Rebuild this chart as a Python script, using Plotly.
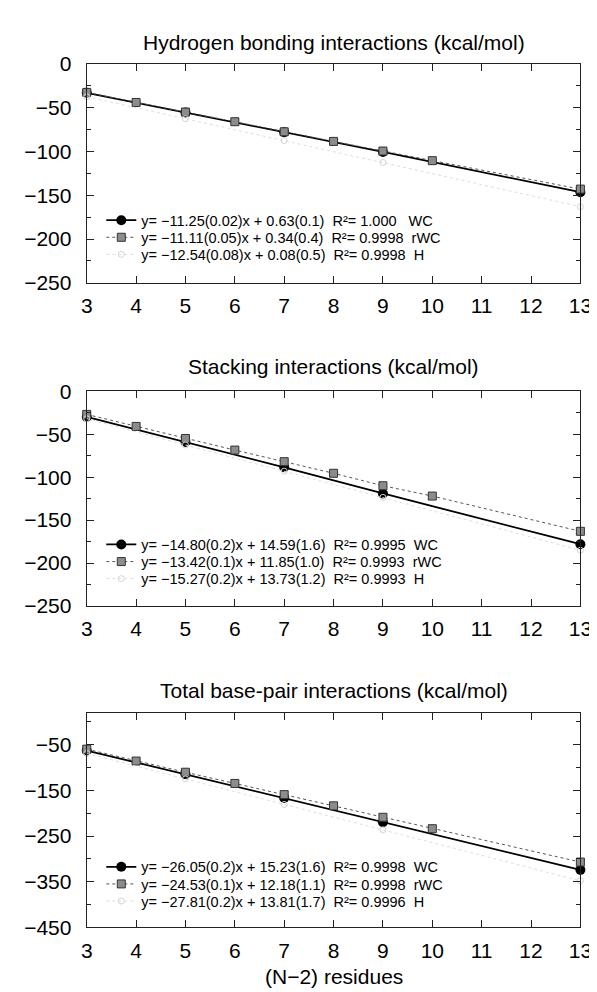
import plotly.graph_objects as go

# ---------------- data ----------------
x_wc = [3, 5, 7, 9, 13]
x_rwc = [3, 4, 5, 6, 7, 8, 9, 10, 13]
x_h = [3, 5, 7, 9, 13]

hb_wc = [-33, -55.5, -78, -100.5, -146.5]
hb_rwc = [-32.5, -44, -55, -66, -77.5, -88.5, -99.5, -110.5, -143]
hb_h = [-37.5, -62.5, -87.5, -112.5, -163]

st_wc = [-30, -59, -88.5, -119, -178]
st_rwc = [-27, -41, -55, -68.5, -82, -95.5, -110, -122, -163]
st_h = [-32, -62.5, -93, -123.5, -185]

tot_wc = [-63, -115, -167, -220, -324]
tot_rwc = [-60, -86, -110.5, -135, -159.5, -184, -209, -234, -307]
tot_h = [-69.5, -125, -181, -236.5, -348]

titles = ["Hydrogen bonding interactions (kcal/mol)",
          "Stacking interactions (kcal/mol)",
          "Total base-pair interactions (kcal/mol)"]

S = "\u00a0\u00a0"
leg_hb = ["y= \u221211.25(0.02)x + 0.63(0.1)" + S + "R\u00b2= 1.000" + S + "\u00a0WC",
          "y= \u221211.11(0.05)x + 0.34(0.4)" + S + "R\u00b2= 0.9998" + S + "rWC",
          "y= \u221212.54(0.08)x + 0.08(0.5)" + S + "R\u00b2= 0.9998" + S + "H"]
leg_st = ["y= \u221214.80(0.2)x + 14.59(1.6)" + S + "R\u00b2= 0.9995" + S + "WC",
          "y= \u221213.42(0.1)x + 11.85(1.0)" + S + "R\u00b2= 0.9993" + S + "rWC",
          "y= \u221215.27(0.2)x + 13.73(1.2)" + S + "R\u00b2= 0.9993" + S + "H"]
leg_tot = ["y= \u221226.05(0.2)x + 15.23(1.6)" + S + "R\u00b2= 0.9998" + S + "WC",
           "y= \u221224.53(0.1)x + 12.18(1.1)" + S + "R\u00b2= 0.9998" + S + "rWC",
           "y= \u221227.81(0.2)x + 13.81(1.7)" + S + "R\u00b2= 0.9996" + S + "H"]

x_ticks = [3, 4, 5, 6, 7, 8, 9, 10, 11, 12, 13]

# ---------------- layout geometry (pixels) ----------------
W, H = 597, 992
FONT = "Liberation Sans, Arial, Helvetica, sans-serif"
left_px, right_px = 75, 584
panels_px = [(45, 269), (380, 600), (709, 929)]  # top, bottom
title_y_px = [23, 355, 686]
legend_rows_px = [[205, 222.5, 240], [537, 554.5, 572], [867, 884.5, 902]]
legend_x_px = 90
yranges = [[-250, 0], [-250, 0], [-450, 20]]

def py(p):
    return 1 - p / H

fig = go.Figure()

datasets = [(hb_wc, hb_rwc, hb_h, leg_hb),
            (st_wc, st_rwc, st_h, leg_st),
            (tot_wc, tot_rwc, tot_h, leg_tot)]

layout = dict(width=W, height=H, margin=dict(l=0, r=0, t=0, b=0),
              paper_bgcolor="white", plot_bgcolor="white",
              font=dict(family=FONT, color="black"), showlegend=True)

leg_idx = 0
for i, (wc, rwc, hh, names) in enumerate(datasets):
    n = i + 1
    xa = "x" if n == 1 else f"x{n}"
    ya = "y" if n == 1 else f"y{n}"
    styles = [
        dict(x=x_wc, y=wc, line=dict(color="black", width=1.8),
             marker=dict(symbol="circle", size=10, color="black")),
        dict(x=x_rwc, y=rwc, line=dict(color="#555555", width=1, dash="dot"),
             marker=dict(symbol="square", size=8, color="#8c8c8c",
                         line=dict(color="#333333", width=1))),
        dict(x=x_h, y=hh, line=dict(color="#dddddd", width=1, dash="dot"),
             marker=dict(symbol="circle-open", size=6, color="#d4d4d4",
                         line=dict(width=1))),
    ]
    for k in range(3):
        leg_idx += 1
        lg = "legend" if leg_idx == 1 else f"legend{leg_idx}"
        fig.add_trace(go.Scatter(name=names[k], xaxis=xa, yaxis=ya, legend=lg,
                                 mode="lines+markers", cliponaxis=False, **styles[k]))
        layout[lg] = dict(x=legend_x_px / W, y=py(legend_rows_px[i][k]),
                          xanchor="left", yanchor="middle",
                          bgcolor="rgba(0,0,0,0)", borderwidth=0,
                          font=dict(family=FONT, size=14.5, color="black"))

axis_common = dict(showline=True, linecolor="#222222", linewidth=1.2,
                   mirror="allticks", ticks="inside", tickcolor="#222222",
                   showgrid=False, zeroline=False,
                   tickfont=dict(family=FONT, size=21, color="black"))

annotations = []
for i in range(3):
    n = i + 1
    top, bot = panels_px[i]
    xk = "xaxis" if n == 1 else f"xaxis{n}"
    yk = "yaxis" if n == 1 else f"yaxis{n}"
    ya = "y" if n == 1 else f"y{n}"
    xa = "x" if n == 1 else f"x{n}"
    layout[xk] = dict(axis_common, domain=[left_px / W, right_px / W], anchor=ya,
                      range=[3, 13], tickvals=x_ticks, ticklen=7,
                      ticklabelstandoff=4)
    if i < 2:
        ydt = dict(tick0=0, dtick=50, minor=dict(ticks="inside", ticklen=4, dtick=25,
                                                 tickcolor="#222222", showgrid=False))
    else:
        ydt = dict(tick0=-50, dtick=100, minor=dict(ticks="inside", ticklen=4, dtick=50,
                                                    tickcolor="#222222", showgrid=False))
    layout[yk] = dict(axis_common, domain=[py(bot), py(top)], anchor=xa,
                      range=yranges[i], tickmode="linear", ticklen=7,
                      ticklabelstandoff=10, **ydt)
    annotations.append(dict(text=titles[i], x=(left_px + right_px) / 2 / W, y=py(title_y_px[i]),
                            xref="paper", yref="paper", xanchor="center", yanchor="middle",
                            showarrow=False, font=dict(family=FONT, size=21, color="black")))

annotations.append(dict(text="(N\u22122) residues", x=(left_px + right_px) / 2 / W, y=py(979),
                        xref="paper", yref="paper", xanchor="center", yanchor="middle",
                        showarrow=False, font=dict(family=FONT, size=21, color="black")))
layout["annotations"] = annotations

fig.update_layout(**layout)
fig.write_html("out.html")
